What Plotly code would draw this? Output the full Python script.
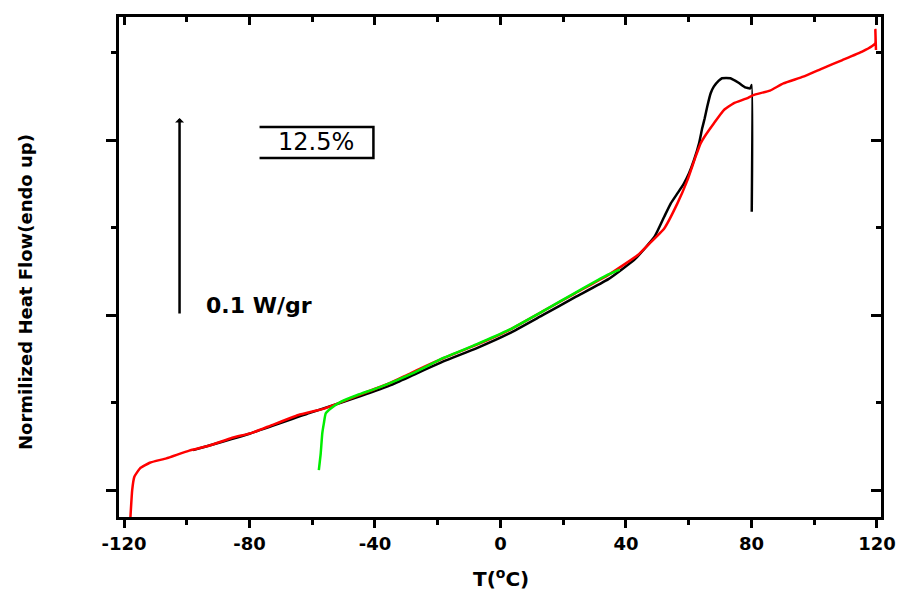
import plotly.graph_objects as go

# ---------------- data ----------------
red_T = [-118.0, -117.4, -116.7, -114.9, -111.8, -106.5, -99.2, -92.9, -85.5, -79.2,
         -72.9, -64.4, -56.0, -46.5, -35.0, -28.7, -18.2, -7.7, 2.8, 13.3,
         23.8, 34.4, 43.8, 47.0, 52.2, 56.4, 59.6, 62.2, 63.8, 65.4,
         68.0, 71.2, 74.3, 78.5, 80.6, 85.9, 90.2, 96.5, 102.7, 109.0,
         115.3, 118.5, 119.5, 119.5, 119.7]
red_H = [-0.17, 0.0, 0.076, 0.124, 0.156, 0.181, 0.225, 0.253, 0.299, 0.327,
         0.371, 0.429, 0.467, 0.533, 0.613, 0.667, 0.753, 0.829, 0.914, 1.019,
         1.124, 1.229, 1.343, 1.40, 1.495, 1.638, 1.771, 1.905, 1.981, 2.029,
         2.095, 2.171, 2.21, 2.238, 2.257, 2.282, 2.324, 2.362, 2.41, 2.457,
         2.505, 2.537, 2.553, 2.629, 2.514]

black_T = [-98.0, -80.0, -60.0, -46.5, -35.0, -28.7, -18.2, -7.7, 2.8, 13.3,
           23.8, 34.4, 42.8, 49.1, 52.2, 54.3, 56.4, 58.5, 60.1, 61.7,
           63.3, 64.3, 65.1, 65.9, 67.0, 68.0, 69.6, 70.6, 73.3, 75.9,
           78.0, 79.6, 80.1, 80.1]
black_H = [0.228, 0.322, 0.445, 0.525, 0.600, 0.650, 0.735, 0.810, 0.895, 0.998,
           1.102, 1.205, 1.318, 1.447, 1.562, 1.638, 1.695, 1.753, 1.81, 1.886,
           1.981, 2.067, 2.124, 2.19, 2.267, 2.305, 2.339, 2.353, 2.353, 2.327,
           2.301, 2.295, 2.314, 1.59]

green_T = [-57.9, -57.3, -56.8, -56.3, -55.7, -54.0, -50.8, -45.6, -38.2, -27.7,
           -18.2, -7.7, 2.8, 13.3, 23.8, 34.4, 38.0]
green_H = [0.114, 0.21, 0.324, 0.381, 0.438, 0.467, 0.505, 0.543, 0.59, 0.67,
           0.755, 0.832, 0.916, 1.02, 1.127, 1.232, 1.26]

x_tick_vals = [-120, -80, -40, 0, 40, 80, 120]
x_tick_labels = ["-120", "-80", "-40", "0", "40", "80", "120"]
y_tick_vals = [0, 1, 2]

x_range = [-121.6, 121.3]
y_range = [-0.154, 2.703]

FONT = "DejaVu Sans"

fig = go.Figure()
fig.add_trace(go.Scatter(x=black_T, y=black_H, mode="lines",
                         line=dict(color="#000000", width=2.5, shape="spline",
                                   smoothing=0.4),
                         showlegend=False))
fig.add_trace(go.Scatter(x=red_T, y=red_H, mode="lines",
                         line=dict(color="#FF0000", width=2.5, shape="spline",
                                   smoothing=0.4),
                         showlegend=False))
fig.add_trace(go.Scatter(x=green_T, y=green_H, mode="lines",
                         line=dict(color="#00EE00", width=2.5, shape="spline",
                                   smoothing=0.4),
                         showlegend=False))
# empty trace to activate the mirrored (top / right) axes
fig.add_trace(go.Scatter(x=[], y=[], xaxis="x2", yaxis="y2", showlegend=False,
                         hoverinfo="skip"))

fig.update_layout(
    width=908, height=597,
    margin=dict(l=119, r=19, t=17, b=80, pad=0),
    paper_bgcolor="white", plot_bgcolor="white",
    xaxis=dict(range=x_range, tickvals=x_tick_vals, ticktext=x_tick_labels,
               ticks="outside", ticklen=8, tickwidth=3, tickcolor="black",
               showline=True, linewidth=3, linecolor="black", mirror=True,
               showgrid=False, zeroline=False,
               tickfont=dict(family=FONT, size=18, color="black", weight="bold"),
               minor=dict(tick0=-120, dtick=20, ticks="outside", ticklen=5,
                          tickwidth=3, tickcolor="black", showgrid=False)),
    yaxis=dict(range=y_range, tickvals=y_tick_vals, showticklabels=False,
               ticks="outside", ticklen=10, tickwidth=3, tickcolor="black",
               showline=True, linewidth=3, linecolor="black", mirror=True,
               showgrid=False, zeroline=False,
               minor=dict(tick0=0, dtick=0.5, ticks="outside", ticklen=5,
                          tickwidth=3, tickcolor="black", showgrid=False)),
    xaxis2=dict(range=x_range, overlaying="x", side="top", tickvals=x_tick_vals,
                showticklabels=False, ticks="inside", ticklen=8, tickwidth=3,
                tickcolor="black", showline=False, showgrid=False, zeroline=False,
                minor=dict(tick0=-120, dtick=20, ticks="inside", ticklen=5,
                           tickwidth=3, tickcolor="black", showgrid=False)),
    yaxis2=dict(range=y_range, overlaying="y", side="right", tickvals=y_tick_vals,
                showticklabels=False, ticks="inside", ticklen=10, tickwidth=3,
                tickcolor="black", showline=False, showgrid=False, zeroline=False,
                minor=dict(tick0=0, dtick=0.5, ticks="inside", ticklen=5,
                           tickwidth=3, tickcolor="black", showgrid=False)),
)

# scale arrow
fig.add_annotation(x=-102.3, y=2.126, ax=-102.3, ay=1.0, xref="x", yref="y",
                   axref="x", ayref="y", text="", showarrow=True,
                   arrowhead=1, arrowsize=0.6, arrowwidth=2.5, arrowcolor="black")
fig.add_annotation(x=-94.4, y=1.057, xref="x", yref="y", xanchor="left",
                   yanchor="middle", text="0.1 W/gr", showarrow=False,
                   font=dict(family=FONT, size=22, color="black", weight="bold"))

# 12.5% label with open-left box
fig.add_shape(type="path", xref="x", yref="y",
              path="M -76.8,2.074 L -40.5,2.074 L -40.5,1.897 L -76.8,1.897",
              line=dict(color="black", width=2.5))
fig.add_annotation(x=-58.7, y=1.986, xref="x", yref="y", text="12.5%",
                   xanchor="center", yanchor="middle",
                   showarrow=False, font=dict(family=FONT, size=24, color="black"))

# axis titles
fig.add_annotation(x=-0.1234, y=0.45, xref="paper", yref="paper", textangle=-90,
                   xanchor="center", yanchor="middle",
                   text="Normilized Heat Flow(endo up)", showarrow=False,
                   font=dict(family=FONT, size=18, color="black", weight="bold"))
fig.add_annotation(x=0.501, y=-0.122, xref="paper", yref="paper",
                   xanchor="center", yanchor="middle",
                   text="T(<sup>o</sup>C)", showarrow=False,
                   font=dict(family=FONT, size=20, color="black", weight="bold"))

fig.write_html("out.html")
